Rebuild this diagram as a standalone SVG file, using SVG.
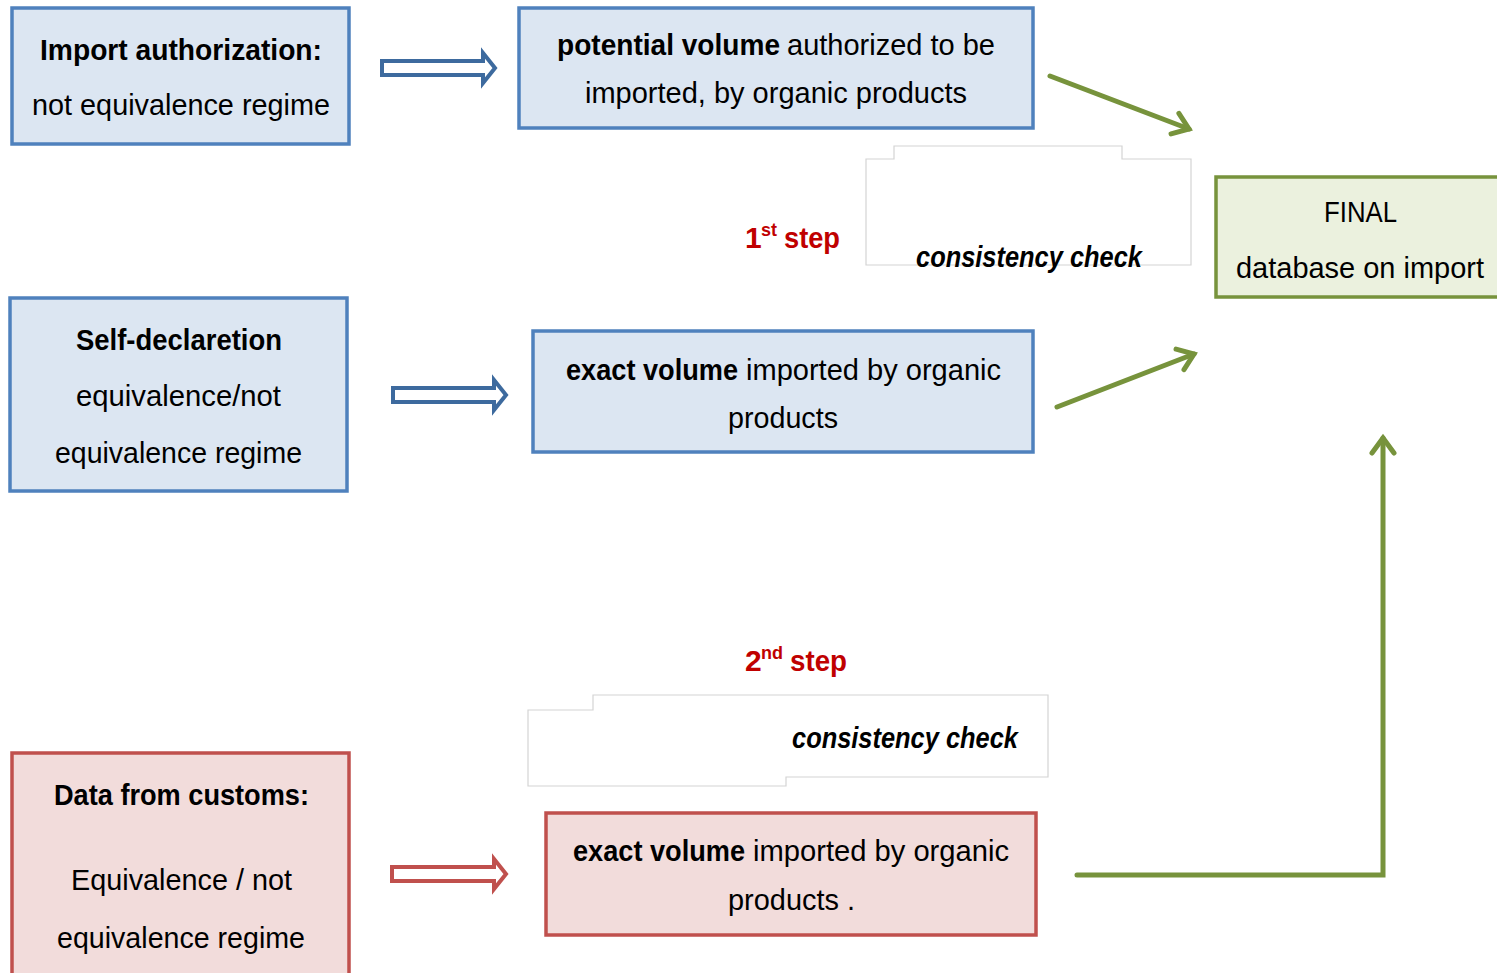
<svg xmlns="http://www.w3.org/2000/svg" width="1497" height="973" viewBox="0 0 1497 973">
<style>
.t{font-family:"Liberation Sans",Arial,sans-serif;font-size:30px;fill:#000}
.b{font-weight:bold}
.bi{font-weight:bold;font-style:italic}
.blue{fill:#dce6f2;stroke:#4f81bd;stroke-width:3.5}
.red{fill:#f2dcdb;stroke:#c0504d;stroke-width:3.5}
.green{fill:#ebf1de;stroke:#77933c;stroke-width:3.5}
.cc{fill:#fff;stroke:#d4d4d4;stroke-width:1.2}
.ba{fill:#fff;stroke:#3d6a9e;stroke-width:4;stroke-linejoin:miter}
.ra{fill:#fff;stroke:#c0504d;stroke-width:4;stroke-linejoin:miter}
.g{fill:none;stroke:#77933c;stroke-width:5;stroke-linecap:round}
.step{font-family:"Liberation Sans",Arial,sans-serif;font-weight:bold;fill:#c00000}
</style>
<defs>
<marker id="chev" markerUnits="userSpaceOnUse" markerWidth="40" markerHeight="40" viewBox="-20 -20 40 40" refX="0" refY="0" orient="auto">
<path d="M-15,-11 L0,0 L-15,11" fill="none" stroke="#77933c" stroke-width="5" stroke-linecap="round" stroke-linejoin="miter"/>
</marker>
</defs>
<rect width="1497" height="973" fill="#fff"/>

<g id="n-import">
<rect class="blue" x="12" y="8" width="337" height="136"/>
<text class="t b" x="40" y="60" textLength="282" lengthAdjust="spacingAndGlyphs">Import authorization:</text>
<text class="t" x="32" y="115" textLength="298" lengthAdjust="spacingAndGlyphs">not equivalence regime</text>
</g>

<g id="n-potential">
<rect class="blue" x="519" y="8" width="514" height="120"/>
<text class="t b" x="557" y="55" textLength="223" lengthAdjust="spacingAndGlyphs">potential volume</text>
<text class="t" x="787" y="55" textLength="208" lengthAdjust="spacingAndGlyphs">authorized to be</text>
<text class="t" x="585" y="103" textLength="382" lengthAdjust="spacingAndGlyphs">imported, by organic products</text>
</g>

<g id="n-final">
<rect class="green" x="1216" y="177" width="290" height="120"/>
<text class="t" x="1324" y="222" textLength="73" lengthAdjust="spacingAndGlyphs">FINAL</text>
<text class="t" x="1236" y="278" textLength="248" lengthAdjust="spacingAndGlyphs">database on import</text>
</g>

<g id="n-check1">
<polygon class="cc" points="866,159 894,159 894,146 1122,146 1122,159 1191,159 1191,265 866,265"/>
<text class="t bi" x="916" y="267" textLength="226" lengthAdjust="spacingAndGlyphs">consistency check</text>
</g>

<g id="n-step1">
<text class="step" x="745" y="248" font-size="30">1</text>
<text class="step" x="761" y="236" font-size="18">st</text>
<text class="step" x="784" y="248" font-size="30" textLength="56" lengthAdjust="spacingAndGlyphs">step</text>
</g>

<g id="n-self">
<rect class="blue" x="10" y="298" width="337" height="193"/>
<text class="t b" x="76" y="350" textLength="206" lengthAdjust="spacingAndGlyphs">Self-declaretion</text>
<text class="t" x="76" y="406" textLength="205" lengthAdjust="spacingAndGlyphs">equivalence/not</text>
<text class="t" x="55" y="463" textLength="247" lengthAdjust="spacingAndGlyphs">equivalence regime</text>
</g>

<g id="n-exact1">
<rect class="blue" x="533" y="331" width="500" height="121"/>
<text class="t b" x="566" y="380" textLength="172" lengthAdjust="spacingAndGlyphs">exact volume</text>
<text class="t" x="746" y="380" textLength="255" lengthAdjust="spacingAndGlyphs">imported by organic</text>
<text class="t" x="728" y="428" textLength="110" lengthAdjust="spacingAndGlyphs">products</text>
</g>

<g id="n-step2">
<text class="step" x="745" y="671" font-size="30">2</text>
<text class="step" x="761" y="659" font-size="18">nd</text>
<text class="step" x="790" y="671" font-size="30" textLength="57" lengthAdjust="spacingAndGlyphs">step</text>
</g>

<g id="n-check2">
<polygon class="cc" points="528,710 593,710 593,695 1048,695 1048,777 786,777 786,786 528,786"/>
<text class="t bi" x="792" y="748" textLength="226" lengthAdjust="spacingAndGlyphs">consistency check</text>
</g>

<g id="n-customs">
<rect class="red" x="12" y="753" width="337" height="230"/>
<text class="t b" x="54" y="805" textLength="255" lengthAdjust="spacingAndGlyphs">Data from customs:</text>
<text class="t" x="71" y="890" textLength="221" lengthAdjust="spacingAndGlyphs">Equivalence / not</text>
<text class="t" x="57" y="948" textLength="248" lengthAdjust="spacingAndGlyphs">equivalence regime</text>
</g>

<g id="n-exact2">
<rect class="red" x="546" y="813" width="490" height="122"/>
<text class="t b" x="573" y="861" textLength="172" lengthAdjust="spacingAndGlyphs">exact volume</text>
<text class="t" x="753" y="861" textLength="256" lengthAdjust="spacingAndGlyphs">imported by organic</text>
<text class="t" x="728" y="910" textLength="127" lengthAdjust="spacingAndGlyphs">products .</text>
</g>

<g id="connectors">
<polygon class="ba" points="382,61 483,61 483,53 495,68 483,83 483,75 382,75"/>
<polygon class="ba" points="393,388 494,388 494,380 506,395 494,410 494,402 393,402"/>
<polygon class="ra" points="392,867 494,867 494,859 506,874 494,889 494,881 392,881"/>
<line class="g" x1="1050" y1="76" x2="1189" y2="129" marker-end="url(#chev)"/>
<line class="g" x1="1057" y1="407" x2="1194" y2="354" marker-end="url(#chev)"/>
<polyline class="g" points="1077,875 1383,875 1383,438" stroke-linecap="butt" stroke-linejoin="miter" marker-end="url(#chev)"/>
</g>
</svg>
